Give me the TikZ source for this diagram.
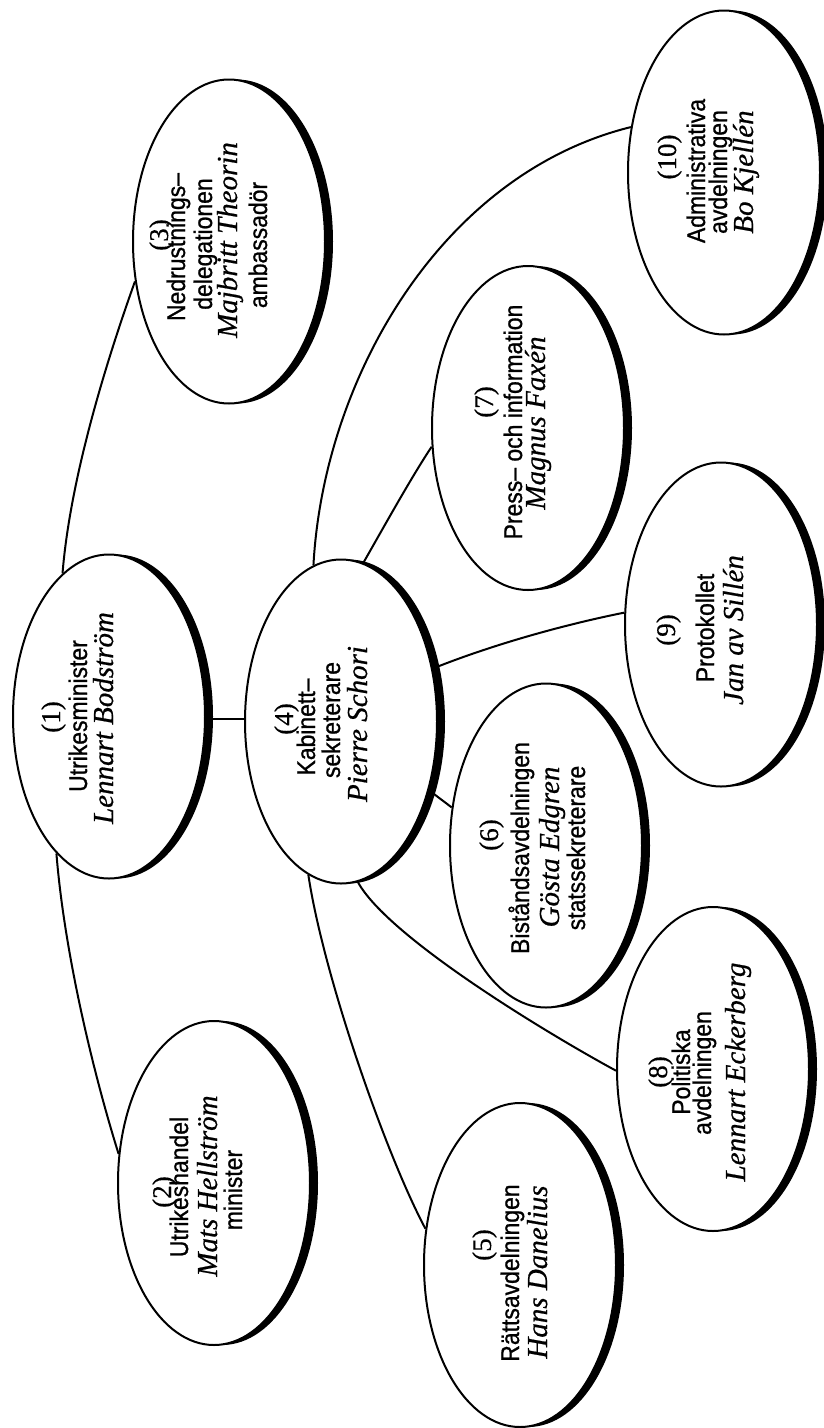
\documentclass[tikz,border=0pt]{standalone}
\usepackage{fontspec}
\setmainfont{Liberation Serif}
\newfontfamily\deptfont{Liberation Sans}[FakeStretch=0.9,FakeBold=0.9]
\newfontfamily\persfont{Liberation Serif}[FakeBold=0.6]
\newfontfamily\numfont{Liberation Serif}[FakeBold=0.4]
\usetikzlibrary{shapes.geometric,shadows,backgrounds}
\tikzset{
  unit/.style={ellipse, draw, line width=2pt, fill=white,
    minimum width=192pt, minimum height=324pt, inner sep=0pt,
    general shadow={fill=black, shadow xshift=8pt}},
  link/.style={line width=2pt},
  numtxt/.style={font=\numfont\fontsize{27}{27}\selectfont, anchor=base, rotate=90, inner sep=0pt},
  depttxt/.style={font=\deptfont\fontsize{25.5}{26}\selectfont, anchor=base, rotate=90, inner sep=0pt},
  perstxt/.style={font=\persfont\itshape\fontsize{29}{29}\selectfont, anchor=base, rotate=90, inner sep=0pt}
}
\begin{document}
\begin{tikzpicture}[x=1pt,y=-1pt]
\useasboundingbox (0,0) rectangle (824,1428);
% ellipses
\node[unit] (n1) at (109,716.5) {};
\node[unit] (n2) at (214,1183) {};
\node[unit] (n3) at (229,241.5) {};
\node[unit] (n4) at (341,721.5) {};
\node[unit] (n5) at (520,1265) {};
\node[unit] (n6) at (546,845.5) {};
\node[unit] (n7) at (528,428) {};
\node[unit] (n8) at (713,1069) {};
\node[unit] (n9) at (721,624.5) {};
\node[unit] (n10) at (724,172.5) {};
\coordinate (mid14) at (0,719);
% connectors
\begin{scope}[on background layer]
\fill[white] (0,0) rectangle (824,1428);
\draw[link] (n1.east |- mid14) -- (n4.west |- mid14);
\draw[link] (n1.108) .. controls +(8,-100) and +(-25,70) .. (n3.203);
\draw[link] (n1.249.6) .. controls +(8,100) and +(-25,-80) .. (n2.163);
\draw[link] (n4.100.6) .. controls +(10,-186) and +(-190,47) .. (n10.154.7);
\draw[link] (n4.82.6) .. controls +(20,-35) and +(-20,30) .. (n7.191.8);
\draw[link] (n4.30.1) .. controls +(60,-24) and +(-60,12) .. (n9.173.2);
\draw[link] (n4.-38.7) -- (n6.158.3);
\draw[link] (n4.258.2) .. controls +(15,100) and +(-40,-75) .. (n5.159.2);
\draw[link] (n4.276.6) .. controls +(30,55) and +(-70,-38) .. (n8.181.8);
\end{scope}
% texts
\node[numtxt]  (t1a) at (60,717) {(1)};
\node[depttxt] (t1b) at (87,716) {Utrikesminister};
\node[perstxt] (t1c) at (113,718) {Lennart Bodström};
\node[numtxt]  (t2a) at (171,1192) {(2)};
\node[depttxt] (t2b) at (188,1187) {Utrikeshandel};
\node[perstxt] (t2c) at (217,1186) {Mats Hellström};
\node[depttxt] (t2d) at (242,1190) {minister};
\node[numtxt]  (t3a) at (168,235) {(3)};
\node[depttxt] (t3b) at (185,247) {Nedrustnings–};
\node[depttxt] (t3c) at (212,244) {delegationen};
\node[perstxt] (t3d) at (237,240) {Majbritt Theorin};
\node[depttxt] (t3e) at (267,245) {ambassadör};
\node[numtxt]  (t4a) at (293,719) {(4)};
\node[depttxt] (t4b) at (315,727) {Kabinett–};
\node[depttxt] (t4c) at (340,720) {sekreterare};
\node[perstxt] (t4d) at (367,724) {Pierre Schori};
\node[numtxt]  (t5a) at (491,1245) {(5)};
\node[depttxt] (t5b) at (519,1273) {Rättsavdelningen};
\node[perstxt] (t5c) at (547,1272) {Hans Danelius};
\node[numtxt]  (t6a) at (498,835) {(6)};
\node[depttxt] (t6b) at (529,848) {Biståndsavdelningen};
\node[perstxt] (t6c) at (559,847) {Gösta Edgren};
\node[depttxt] (t6d) at (585,848) {statssekreterare};
\node[numtxt]  (t7a) at (493,402) {(7)};
\node[depttxt] (t7b) at (522,422) {Press– och information};
\node[perstxt] (t7c) at (545,423) {Magnus Faxén};
\node[numtxt]  (t8a) at (667,1072) {(8)};
\node[depttxt] (t8b) at (690,1072) {Politiska};
\node[depttxt] (t8c) at (711,1073) {avdelningen};
\node[perstxt] (t8d) at (745,1072) {Lennart Eckerberg};
\node[numtxt]  (t9a) at (675,630) {(9)};
\node[depttxt] (t9b) at (714,628) {Protokollet};
\node[perstxt] (t9c) at (743,630) {Jan av Sillén};
\node[numtxt]  (t10a) at (676,157) {(10)};
\node[depttxt] (t10b) at (705,171) {Administrativa};
\node[depttxt] (t10c) at (727,172) {avdelningen};
\node[perstxt] (t10d) at (753,172) {Bo Kjellén};
\end{tikzpicture}
\end{document}
